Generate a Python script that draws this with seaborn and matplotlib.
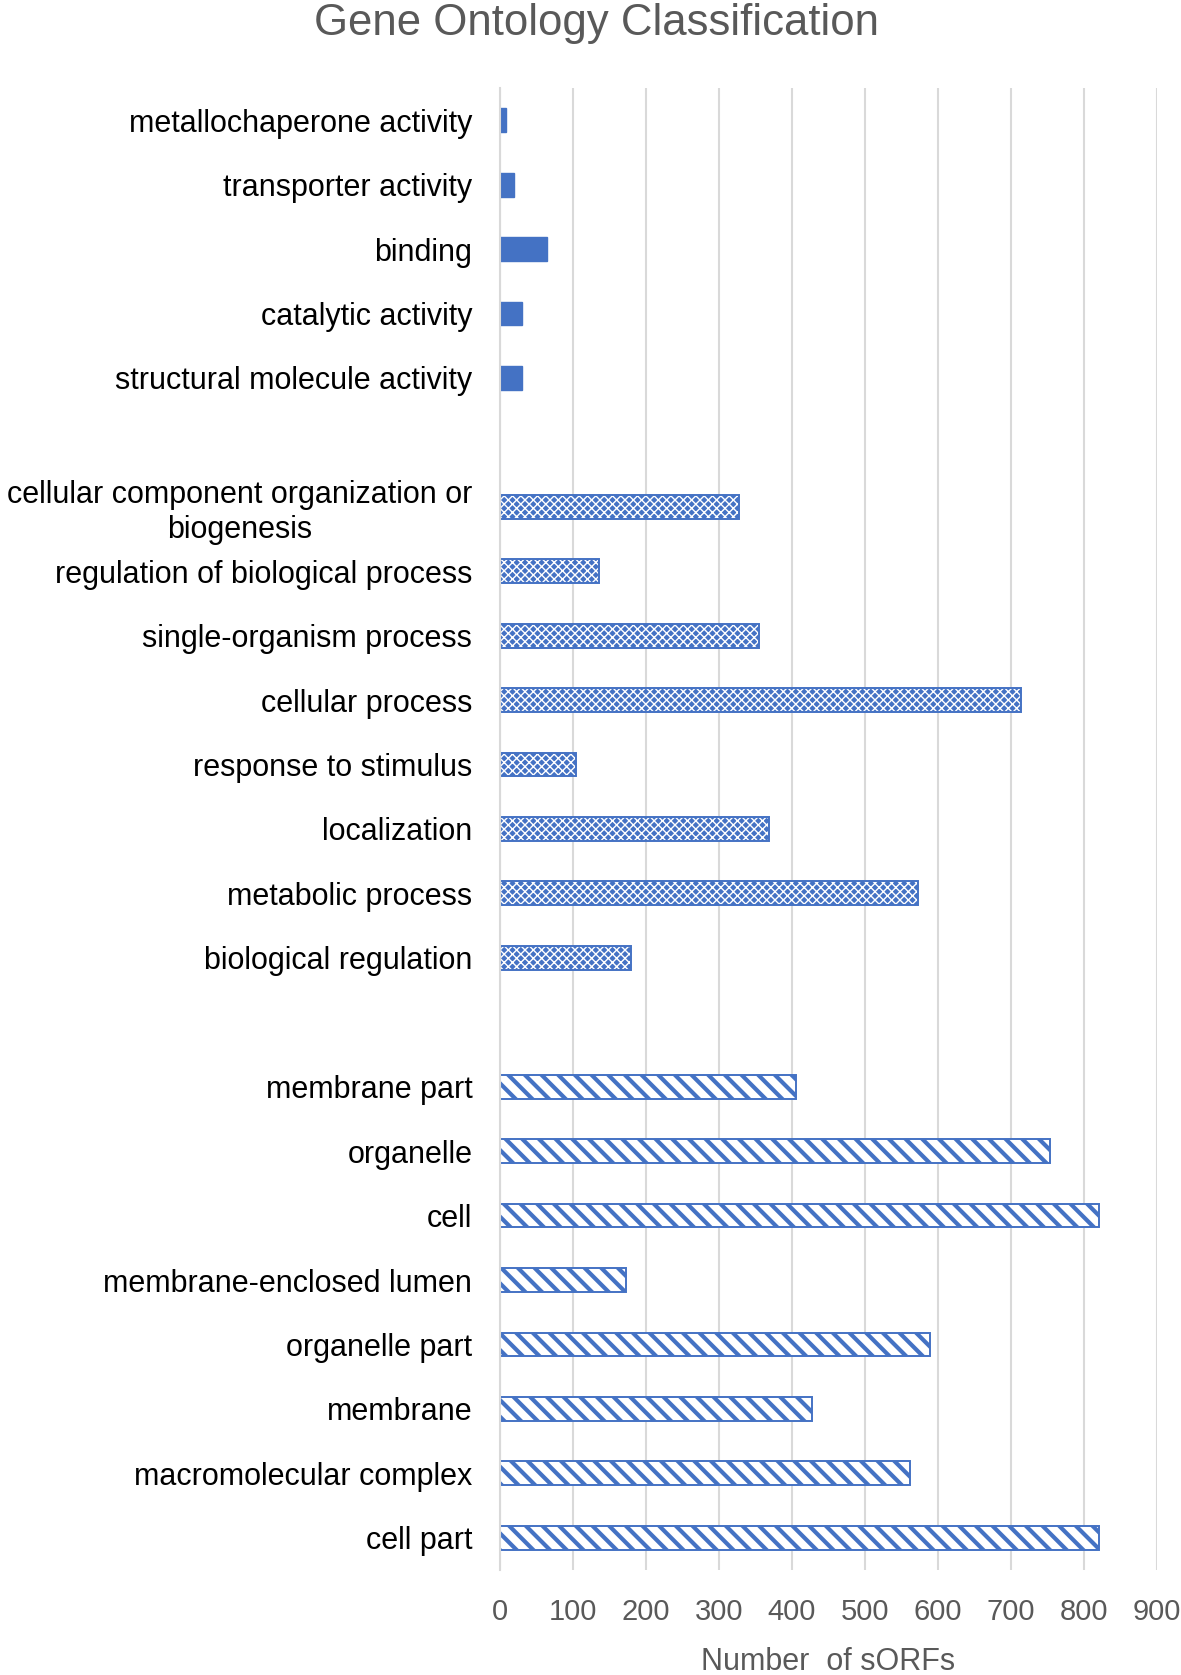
import matplotlib
matplotlib.use("Agg")
import matplotlib.pyplot as plt
from matplotlib.patches import Rectangle
import pandas as pd
import seaborn as sns

# --- data ---
title = "Gene Ontology Classification"
x_label = "Number  of sORFs"

mf_terms = ["metallochaperone activity", "transporter activity", "binding",
            "catalytic activity", "structural molecule activity"]
mf_counts = [8, 19, 65, 30, 30]

bp_terms = ["cellular component organization or\nbiogenesis",
            "regulation of biological process", "single-organism process",
            "cellular process", "response to stimulus", "localization",
            "metabolic process", "biological regulation"]
bp_counts = [327, 136, 355, 714, 104, 369, 572, 179]

cc_terms = ["membrane part", "organelle", "cell", "membrane-enclosed lumen",
            "organelle part", "membrane", "macromolecular complex", "cell part"]
cc_counts = [406, 754, 820, 172, 589, 427, 562, 820]

x_ticks = [0, 100, 200, 300, 400, 500, 600, 700, 800, 900]

BLUE = "#4472C4"
GRID = "#d9d9d9"
GREY_TXT = "#595959"

df = pd.DataFrame({
    "term": mf_terms + bp_terms + cc_terms,
    "count": mf_counts + bp_counts + cc_counts,
    "group": ["MF"] * len(mf_terms) + ["BP"] * len(bp_terms) + ["CC"] * len(cc_terms),
})
group_of = dict(zip(df["term"], df["group"]))

# empty slots between the three groups
row_order = mf_terms + ["_gap1"] + bp_terms + ["_gap2"] + cc_terms

sns.set_style("white")
plt.rcParams["font.family"] = ["Liberation Sans", "DejaVu Sans"]
plt.rcParams["hatch.linewidth"] = 1.0

fig = plt.figure(figsize=(11.81, 16.75), dpi=100)
ax = fig.add_axes([0.4234, 0.0627, 0.9797 - 0.4234, 0.9475 - 0.0627])

sns.barplot(data=df, x="count", y="term", order=row_order, orient="h",
            width=0.37, color=BLUE, saturation=1, ax=ax)

for p in list(ax.patches):
    idx = int(round(p.get_y() + p.get_height() / 2))
    grp = group_of.get(row_order[idx])
    if grp == "MF":
        p.set_facecolor(BLUE)
        p.set_edgecolor(BLUE)
        p.set_linewidth(1.0)
    elif grp == "BP":
        # white lattice on a blue ground, outlined in blue
        p.set_facecolor(BLUE)
        p.set_edgecolor("white")
        p.set_hatch("xxxx")
        p.set_linewidth(0)
        if hasattr(p, "set_hatch_linewidth"):
            p.set_hatch_linewidth(1.0)
        ax.add_patch(Rectangle(p.get_xy(), p.get_width(), p.get_height(),
                               fill=False, edgecolor=BLUE, linewidth=1.4,
                               zorder=p.get_zorder() + 0.1))
    elif grp == "CC":
        p.set_facecolor("white")
        p.set_edgecolor(BLUE)
        p.set_hatch("\\\\")
        p.set_linewidth(1.4)
        if hasattr(p, "set_hatch_linewidth"):
            p.set_hatch_linewidth(3.0)

ax.set_xlim(0, 900)
ax.set_ylim(len(row_order) - 0.5, -0.5)
ax.set_xticks(x_ticks)
ax.set_xticklabels([str(t) for t in x_ticks], fontsize=21, color=GREY_TXT)
ax.set_yticks(range(len(row_order)))
ax.set_yticklabels(["" if t.startswith("_gap") else t for t in row_order],
                   fontsize=22, color="black", multialignment="center")
ax.tick_params(axis="both", length=0)
ax.tick_params(axis="y", pad=20)
ax.tick_params(axis="x", pad=20)
ax.set_xlabel("")
ax.set_ylabel("")

ax.grid(axis="x", color=GRID, linewidth=1.5)
ax.grid(axis="y", visible=False)
ax.set_axisbelow(True)
for side in ["top", "right", "bottom"]:
    ax.spines[side].set_visible(False)
ax.spines["left"].set_color(GRID)
ax.spines["left"].set_linewidth(1.5)

fig.text(597 / 1181, 1 - 24 / 1675, title, ha="center", va="center",
         fontsize=31.5, color=GREY_TXT)
fig.text(828 / 1181, 1 - 1662 / 1675, x_label, ha="center", va="center",
         fontsize=22, color=GREY_TXT)

fig.savefig("out.png", dpi=100)
